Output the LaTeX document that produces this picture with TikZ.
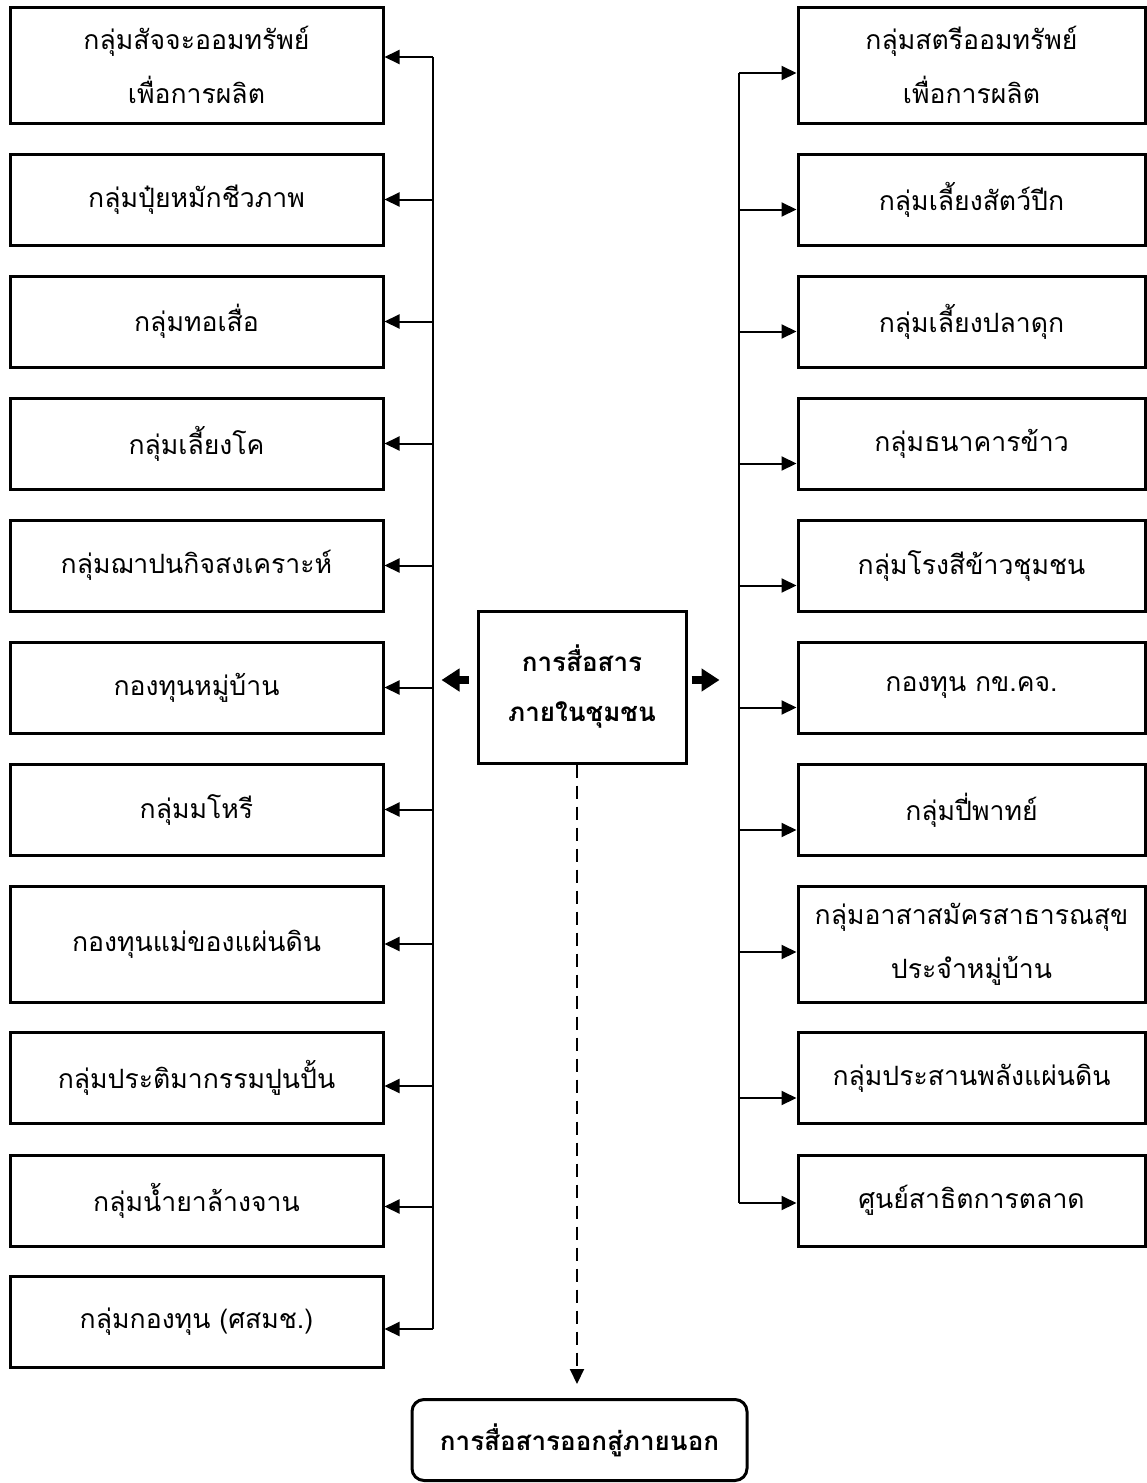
\documentclass[tikz,border=0pt]{standalone}
\usepackage{fontspec}
\newfontfamily\thaifont[Script=Thai]{Loma}
\usetikzlibrary{arrows.meta}

\tikzset{
  grp/.style={draw, line width=1.5pt, minimum width=186.5pt, minimum height=45.5pt,
    inner sep=0pt, align=center, font=\thaifont\fontsize{13.3}{27}\selectfont},
  grpr/.style={grp, minimum width=173.5pt},
  hub/.style={draw, line width=1.5pt, minimum width=104pt, minimum height=76pt,
    inner sep=0pt, align=center, font=\thaifont\bfseries\fontsize{13}{25}\selectfont},
  outbox/.style={hub, rounded corners=6pt, minimum width=167.5pt, minimum height=40.5pt},
  bus/.style={line width=1pt},
  arr/.style={line width=1pt, -{Triangle[length=7.5pt,width=7pt]}},
  fat/.style={line width=4pt, -{Triangle[length=9pt,width=11pt]}},
  dashline/.style={line width=1pt, dash pattern=on 6.5pt off 4pt, -{Triangle[length=7.5pt,width=7pt]}}
}

\begin{document}
\begin{tikzpicture}[x=0.5pt, y=-0.5pt]
\useasboundingbox (0,0) rectangle (1146,1483);

% centre
\node[hub] (hub) at (582,687) {การสื่อสาร\\ภายในชุมชน};
\node[outbox] (out) at (579.5,1440) {การสื่อสารออกสู่ภายนอก};

% left groups
\node[grp, minimum height=58pt] (l1) at (196.5,65) {กลุ่มสัจจะออมทรัพย์\\เพื่อการผลิต};
\node[grp] (l2) at (196.5,199.5) {กลุ่มปุ๋ยหมักชีวภาพ};
\node[grp] (l3) at (196.5,321.5) {กลุ่มทอเสื่อ};
\node[grp] (l4) at (196.5,443.5) {กลุ่มเลี้ยงโค};
\node[grp] (l5) at (196.5,565.5) {กลุ่มฌาปนกิจสงเคราะห์};
\node[grp] (l6) at (196.5,687.5) {กองทุนหมู่บ้าน};
\node[grp] (l7) at (196.5,809.5) {กลุ่มมโหรี};
\node[grp, minimum height=58pt] (l8) at (196.5,944) {กองทุนแม่ของแผ่นดิน};
\node[grp] (l9) at (196.5,1078) {กลุ่มประติมากรรมปูนปั้น};
\node[grp] (l10) at (196.5,1200.5) {กลุ่มน้ำยาล้างจาน};
\node[grp] (l11) at (196.5,1322) {กลุ่มกองทุน (ศสมช.)};

% right groups
\node[grpr, minimum height=58pt] (r1) at (971.5,65) {กลุ่มสตรีออมทรัพย์\\เพื่อการผลิต};
\node[grpr] (r2) at (971.5,199.5) {กลุ่มเลี้ยงสัตว์ปีก};
\node[grpr] (r3) at (971.5,321.5) {กลุ่มเลี้ยงปลาดุก};
\node[grpr] (r4) at (971.5,443.5) {กลุ่มธนาคารข้าว};
\node[grpr] (r5) at (971.5,565.5) {กลุ่มโรงสีข้าวชุมชน};
\node[grpr] (r6) at (971.5,687.5) {กองทุน กข.คจ.};
\node[grpr] (r7) at (971.5,810) {กลุ่มปี่พาทย์};
\node[grpr, minimum height=58pt] (r8) at (971.5,944) {กลุ่มอาสาสมัครสาธารณสุข\\ประจำหมู่บ้าน};
\node[grpr] (r9) at (971.5,1078) {กลุ่มประสานพลังแผ่นดิน};
\node[grpr] (r10) at (971.5,1200.5) {ศูนย์สาธิตการตลาด};

% buses
\coordinate (ltop) at (433,57);
\coordinate (lbot) at (433,1329);
\coordinate (rtop) at (739,73);
\coordinate (rbot) at (739,1203);
\draw[bus] (ltop) -- (lbot);
\draw[bus] (rtop) -- (rbot);

% left arrows
\draw[arr] (ltop) -- (ltop -| l1.east);
\draw[arr] (l2.east -| ltop) -- (l2.east);
\draw[arr] (l3.east -| ltop) -- (l3.east);
\draw[arr] (l4.east -| ltop) -- (l4.east);
\draw[arr] (l5.east -| ltop) -- (l5.east);
\draw[arr] (l6.east -| ltop) -- (l6.east);
\draw[arr] (l7.east -| ltop) -- (l7.east);
\draw[arr] (l8.east -| ltop) -- (l8.east);
\draw[arr] ([yshift=-4pt]l9.east -| ltop) -- ([yshift=-4pt]l9.east);
\draw[arr] ([yshift=-3pt]l10.east -| ltop) -- ([yshift=-3pt]l10.east);
\draw[arr] (lbot) -- (lbot -| l11.east);

% right arrows
\draw[arr] (rtop) -- (rtop -| r1.west);
\draw[arr] ([yshift=-5pt]r2.west -| rtop) -- ([yshift=-5pt]r2.west);
\draw[arr] ([yshift=-5pt]r3.west -| rtop) -- ([yshift=-5pt]r3.west);
\draw[arr] ([yshift=-10pt]r4.west -| rtop) -- ([yshift=-10pt]r4.west);
\draw[arr] ([yshift=-10pt]r5.west -| rtop) -- ([yshift=-10pt]r5.west);
\draw[arr] ([yshift=-10pt]r6.west -| rtop) -- ([yshift=-10pt]r6.west);
\draw[arr] ([yshift=-10pt]r7.west -| rtop) -- ([yshift=-10pt]r7.west);
\draw[arr] ([yshift=-4pt]r8.west -| rtop) -- ([yshift=-4pt]r8.west);
\draw[arr] ([yshift=-10pt]r9.west -| rtop) -- ([yshift=-10pt]r9.west);
\draw[arr] (rbot) -- (rbot -| r10.west);

% hub arrows
\draw[fat] ([xshift=-4pt,yshift=3.5pt]hub.west) -- ([xshift=-17.5pt,yshift=3.5pt]hub.west);
\draw[fat] ([xshift=2pt,yshift=3.5pt]hub.east) -- ([xshift=16pt,yshift=3.5pt]hub.east);

% out of the community
\coordinate (d) at ([xshift=-2.5pt]hub.south);
\draw[dashline, shorten >=7pt] (d) -- (d |- out.north);
\end{tikzpicture}
\end{document}
